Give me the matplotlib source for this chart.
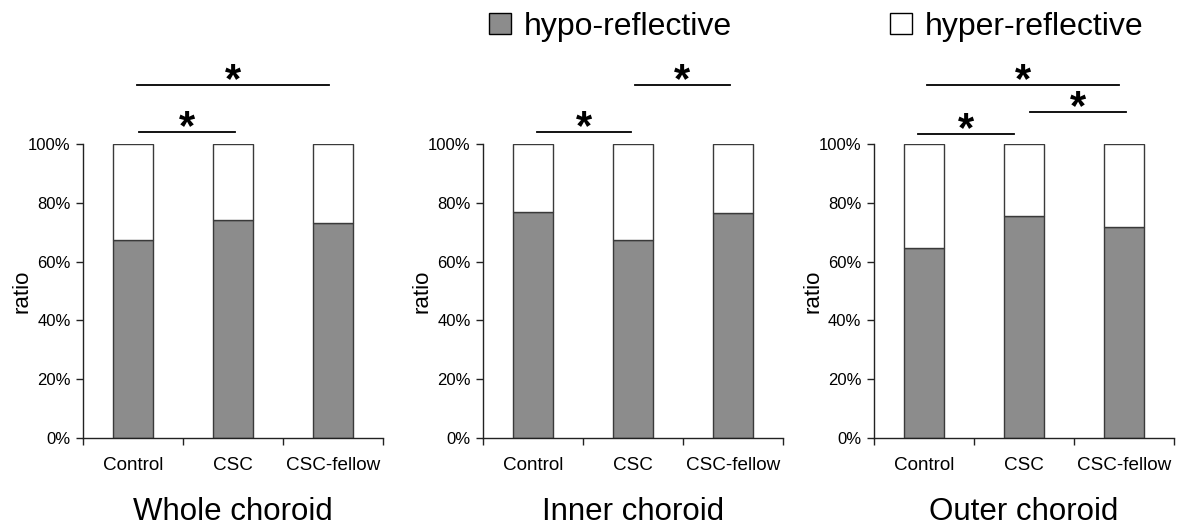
import matplotlib
matplotlib.use("Agg")
import matplotlib.pyplot as plt
from matplotlib.patches import Patch
from matplotlib.ticker import PercentFormatter
import numpy as np

plt.rcParams["font.family"] = ["Liberation Sans", "DejaVu Sans"]

categories  = ["Control", "CSC", "CSC-fellow"]
titles      = ["Whole choroid", "Inner choroid", "Outer choroid"]
whole_hypo  = [67.5, 74.0, 73.0]
inner_hypo  = [77.0, 67.2, 76.5]
outer_hypo  = [64.7, 75.4, 71.8]
yticks      = [0, 20, 40, 60, 80, 100]

# significance brackets per panel: (x_start, x_end, height in % units)
sig_whole = [(0.56, 1.52, 104.2), (0.54, 2.46, 120.0)]
sig_inner = [(0.54, 1.48, 104.0), (1.52, 2.47, 120.0)]
sig_outer = [(0.44, 1.40, 103.5), (1.56, 2.52, 111.0), (0.53, 2.45, 120.0)]

GRAY = "#8c8c8c"
EDGE = "#3a3a3a"

fig = plt.figure(figsize=(11.81, 5.27), dpi=100)

panels = [(whole_hypo, sig_whole), (inner_hypo, sig_inner), (outer_hypo, sig_outer)]
lefts = [83, 483, 874]

for (hypo, sigs), left, title in zip(panels, lefts, titles):
    ax = fig.add_axes([left / 1181, 1 - 438 / 527, 300 / 1181, 294 / 527])
    hypo = np.array(hypo)
    hyper = 100 - hypo
    x = np.arange(len(categories)) + 0.5
    ax.bar(x, hypo, 0.4, color=GRAY, edgecolor=EDGE, linewidth=1)
    ax.bar(x, hyper, 0.4, bottom=hypo, color="white", edgecolor=EDGE, linewidth=1)

    ax.set_xlim(0, 3)
    ax.set_ylim(0, 100)
    ax.set_yticks(yticks)
    ax.yaxis.set_major_formatter(PercentFormatter(decimals=0))
    ax.set_xticks([0, 1, 2, 3])
    ax.set_xticklabels([])
    ax.set_xticks(x, minor=True)
    ax.set_xticklabels(categories, minor=True, fontsize=13.6)
    ax.tick_params(axis="x", which="minor", length=0, pad=14)
    ax.tick_params(axis="x", which="major", length=5, width=1, color="#222")
    ax.tick_params(axis="y", length=5, width=1, color="#222", labelsize=12, pad=4)
    for sp in ["top", "right"]:
        ax.spines[sp].set_visible(False)
    for sp in ["left", "bottom"]:
        ax.spines[sp].set_color("#222")
        ax.spines[sp].set_linewidth(1)

    ax.text(-0.203, 0.5, "ratio", rotation=90, transform=ax.transAxes,
            ha="center", va="center", fontsize=16)

    for x0, x1, y in sigs:
        ax.plot([x0, x1], [y, y], color="black", lw=1.3, clip_on=False)
        ax.text((x0 + x1) / 2, y - 5.5, "*", ha="center", va="bottom",
                fontsize=30, fontweight="bold", clip_on=False)

    fig.text((left + 150) / 1181, 1 - 512 / 527, title, ha="center",
             va="center", fontsize=22.5)

for label, face, xpix in [("hypo-reflective", GRAY, 489), ("hyper-reflective", "white", 890)]:
    leg = fig.legend(handles=[Patch(facecolor=face, edgecolor="black", linewidth=1)],
                     labels=[label], loc="center left",
                     bbox_to_anchor=(xpix / 1181, 1 - 27 / 527), frameon=False,
                     fontsize=23, handlelength=0.7, handleheight=0.64,
                     handletextpad=0.4, borderpad=0, borderaxespad=0)

fig.savefig("out.png", dpi=100)
